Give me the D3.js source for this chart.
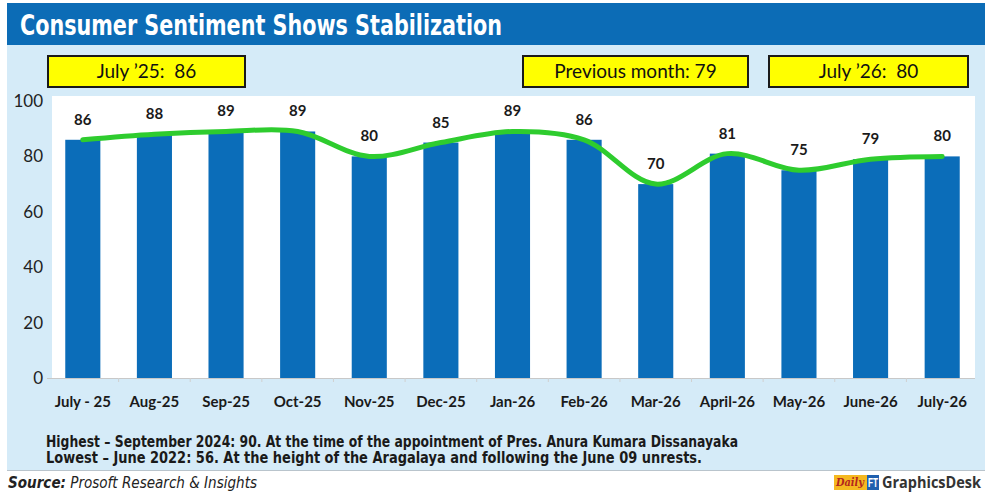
<!DOCTYPE html>
<html>
<head>
<meta charset="utf-8">
<script src="https://cdn.jsdelivr.net/npm/d3@7"></script>
<style>
  body { margin: 0; background: #fff; }
  svg { display: block; }
</style>
</head>
<body>
<div id="chart"></div>
<script>
// chart data
const months = ["July - 25", "Aug-25", "Sep-25", "Oct-25", "Nov-25", "Dec-25", "Jan-26",
                "Feb-26", "Mar-26", "April-26", "May-26", "June-26", "July-26"];
const sentiment = [86, 88, 89, 89, 80, 85, 89, 86, 70, 81, 75, 79, 80];
const yTicks = [0, 20, 40, 60, 80, 100];
const callouts = ["July \u201925:  86", "Previous month: 79", "July \u201926:  80"];
const notes = [
  "Highest \u2013 September 2024: 90. At the time of the appointment of Pres. Anura Kumara Dissanayaka",
  "Lowest \u2013 June 2022: 56. At the height of the Aragalaya and following the June 09 unrests."
];
const titleText = "Consumer Sentiment Shows Stabilization";

const W = 1000, H = 498;
const calibri = "Lato, 'Open Sans', sans-serif";
const narrow = "'Liberation Sans Narrow', 'DejaVu Sans Condensed', 'Liberation Sans', sans-serif";

const svg = d3.select("#chart").append("svg")
    .attr("width", W)
    .attr("height", H);

// background panel + title bar
svg.append("rect")
    .attr("x", 7).attr("y", 45)
    .attr("width", 978).attr("height", 425)
    .style("fill", "#d5ebf8");
svg.append("line")
    .attr("x1", 7).attr("x2", 985)
    .attr("y1", 470.5).attr("y2", 470.5)
    .style("stroke", "#b9c4cc");
svg.append("rect")
    .attr("x", 7).attr("y", 3)
    .attr("width", 978).attr("height", 42)
    .style("fill", "#0c6cb6");
svg.append("text")
    .attr("x", 20).attr("y", 35)
    .attr("textLength", 482)
    .attr("lengthAdjust", "spacingAndGlyphs")
    .style("font-family", narrow)
    .style("font-weight", "bold")
    .style("font-size", "28px")
    .style("fill", "#fff")
    .text(titleText);

// yellow callout boxes
const boxX = [48, 523, 769], boxW = [197, 225, 199];
callouts.forEach((t, i) => {
  svg.append("rect")
      .attr("x", boxX[i]).attr("y", 56)
      .attr("width", boxW[i]).attr("height", 31)
      .style("fill", "#ffff00")
      .style("stroke", "#1a1a1a")
      .style("stroke-width", 2);
  svg.append("text")
      .attr("x", boxX[i] + boxW[i] / 2).attr("y", 78)
      .attr("text-anchor", "middle")
      .style("white-space", "pre")
      .style("font-family", calibri)
      .style("font-size", "19px")
      .style("fill", "#111")
      .text(t);
});

// plot area
const plot = {left: 47, right: 978, top: 96, bottom: 378};
svg.append("rect")
    .attr("x", 52).attr("y", plot.top)
    .attr("width", 975 - 52).attr("height", plot.bottom - plot.top)
    .style("fill", "#fff");

const x = d3.scaleBand()
    .domain(months)
    .range([plot.left, plot.right])
    .paddingInner(0.51)
    .paddingOuter(0.255);

const y = d3.scaleLinear()
    .domain([0, 100])
    .range([plot.bottom, 101]);

// y axis labels only
const yAxis = svg.append("g")
    .attr("transform", "translate(46,0)")
    .call(d3.axisLeft(y).tickValues(yTicks).tickSize(0).tickPadding(3));
yAxis.select(".domain").remove();
yAxis.selectAll("text")
    .style("font-family", calibri)
    .style("font-size", "17px")
    .style("fill", "#222");

// bars
svg.append("g")
  .selectAll("rect")
  .data(sentiment)
  .enter()
  .append("rect")
    .attr("x", (d, i) => x(months[i]))
    .attr("y", d => y(d))
    .attr("width", x.bandwidth())
    .attr("height", d => y(0) - y(d))
    .style("fill", "#0b6db9");

// baseline with category ticks
const xAxis = svg.append("g")
    .attr("transform", `translate(0,${plot.bottom})`)
    .call(d3.axisBottom(x).tickSize(0).tickPadding(18));
xAxis.select(".domain")
    .attr("d", `M${plot.left},0.5H${975}`)
    .style("stroke", "#c8c8c8");
xAxis.selectAll(".tick text")
    .style("font-family", calibri)
    .style("font-weight", "bold")
    .style("font-size", "15px")
    .style("fill", "#1a1a1a");
const step = x.step();
svg.append("g")
  .selectAll("line")
  .data(months.slice(1))
  .enter()
  .append("line")
    .attr("x1", d => x(d) - step * x.paddingInner() / 2)
    .attr("x2", d => x(d) - step * x.paddingInner() / 2)
    .attr("y1", plot.bottom)
    .attr("y2", plot.bottom + 4)
    .style("stroke", "#d0d0d0");

// smoothed green trend line
const line = d3.line()
    .x((d, i) => x(months[i]) + x.bandwidth() / 2)
    .y(d => y(d))
    .curve(d3.curveCatmullRom.alpha(0.5));
svg.append("path")
    .datum(sentiment)
    .attr("d", line)
    .style("fill", "none")
    .style("stroke", "#2ecc2e")
    .style("stroke-width", 5)
    .style("stroke-linecap", "round");

// value labels
svg.append("g")
  .selectAll("text")
  .data(sentiment)
  .enter()
  .append("text")
    .attr("x", (d, i) => x(months[i]) + x.bandwidth() / 2)
    .attr("y", d => y(d) - 15)
    .attr("text-anchor", "middle")
    .style("font-family", calibri)
    .style("font-weight", "bold")
    .style("font-size", "15px")
    .style("fill", "#1a1a1a")
    .text(d => d);

// footnotes (condensed look via textLength)
const noteWidth = [692, 656];
notes.forEach((t, i) => {
  svg.append("text")
      .attr("x", 46).attr("y", 447 + i * 16)
      .attr("textLength", noteWidth[i])
      .attr("lengthAdjust", "spacingAndGlyphs")
      .style("font-family", narrow)
      .style("font-weight", "bold")
      .style("font-size", "15px")
      .style("fill", "#1a1a1a")
      .text(t);
});

// source line
const src = svg.append("text")
    .attr("x", 8).attr("y", 488)
    .attr("textLength", 249)
    .attr("lengthAdjust", "spacingAndGlyphs")
    .style("font-family", narrow)
    .style("font-style", "italic")
    .style("font-size", "16px")
    .style("fill", "#222");
src.append("tspan").style("font-weight", "bold").text("Source:");
src.append("tspan").text(" Prosoft Research & Insights");

// Daily FT GraphicsDesk logo
const logo = svg.append("g");
logo.append("rect")
    .attr("x", 834).attr("y", 475)
    .attr("width", 33).attr("height", 15)
    .style("fill", "#f5b820");
logo.append("text")
    .attr("x", 836).attr("y", 486)
    .attr("textLength", 28)
    .attr("lengthAdjust", "spacingAndGlyphs")
    .style("font-family", "'DejaVu Serif', serif")
    .style("font-style", "italic")
    .style("font-weight", "bold")
    .style("font-size", "11px")
    .style("fill", "#b3261e")
    .text("Daily");
logo.append("rect")
    .attr("x", 867).attr("y", 475)
    .attr("width", 12).attr("height", 15)
    .style("fill", "#1f5fae");
logo.append("text")
    .attr("x", 873).attr("y", 487)
    .attr("text-anchor", "middle")
    .attr("textLength", 10)
    .attr("lengthAdjust", "spacingAndGlyphs")
    .style("font-family", "'Liberation Sans', sans-serif")
    .style("font-weight", "bold")
    .style("font-size", "12px")
    .style("fill", "#fff")
    .text("FT");
logo.append("text")
    .attr("x", 882).attr("y", 488)
    .attr("textLength", 99)
    .attr("lengthAdjust", "spacingAndGlyphs")
    .style("font-family", "'Open Sans', sans-serif")
    .style("font-weight", "bold")
    .style("font-size", "16px")
    .style("fill", "#333")
    .text("GraphicsDesk");
</script>
</body>
</html>
